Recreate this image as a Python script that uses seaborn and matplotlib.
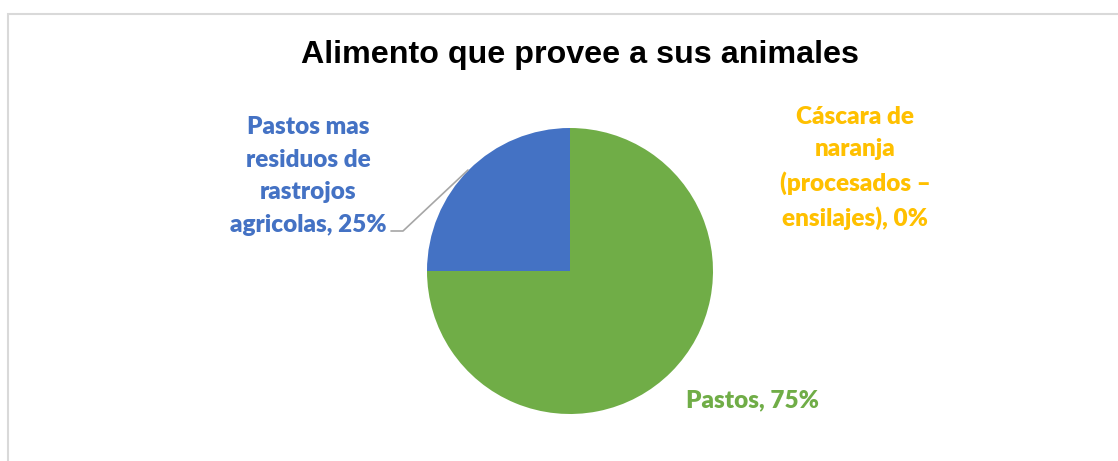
import matplotlib.pyplot as plt
import seaborn as sns
from matplotlib.patches import Rectangle

# Data
categories = ['Pastos', 'Pastos mas\nresiduos de\nrastrojos\nagricolas',
              'Cáscara de\nnaranja\n(procesados –\nensilajes)']
values = [75, 25, 0]
colors = ['#70AD47', '#4472C4', '#FFC000']

sns.set_theme(style="white")
plt.rcParams['font.family'] = ['Lato', 'DejaVu Sans']

W, H = 1118, 461
fig = plt.figure(figsize=(W / 100, H / 100), dpi=100)

# chart frame
fig.patches.append(Rectangle((8 / W, -0.05), (W + 10 - 8) / W, (H - 14) / H + 0.05,
                             transform=fig.transFigure, fill=False,
                             edgecolor='#D9D9D9', linewidth=1.5))

# pie axes placed in pixel box: center (570, 271), radius 143
cx, cy, r = 570, 271, 143
ax = fig.add_axes([(cx - r) / W, (H - cy - r) / H, 2 * r / W, 2 * r / H])
ax.pie(values, colors=colors, startangle=90, counterclock=False,
       wedgeprops=dict(linewidth=0))
ax.set_aspect('equal')
ax.set_xlim(-1, 1)
ax.set_ylim(-1, 1)

fig.text(580 / W, 1 - 55 / H, 'Alimento que provee a sus animales',
         ha='center', va='center', fontsize=23.2, fontweight='bold',
         family=['Liberation Sans', 'DejaVu Sans'], color='black')

# data labels
label_pos = [(752, 400), (308, 176), (855, 168)]
for cat, val, col, (lx, ly) in zip(categories, values, colors, label_pos):
    fig.text(lx / W, 1 - ly / H, f'{cat}, {val}%', ha='center', va='center',
             fontsize=17.5, fontweight='heavy', color=col, linespacing=1.58)

# leader line for the blue slice
fig.add_artist(plt.Line2D([391 / W, 403 / W, 468 / W],
                          [1 - 231 / H, 1 - 231 / H, 1 - 170 / H],
                          color='#A6A6A6', linewidth=1.2))

fig.savefig('out.png', dpi=100)
